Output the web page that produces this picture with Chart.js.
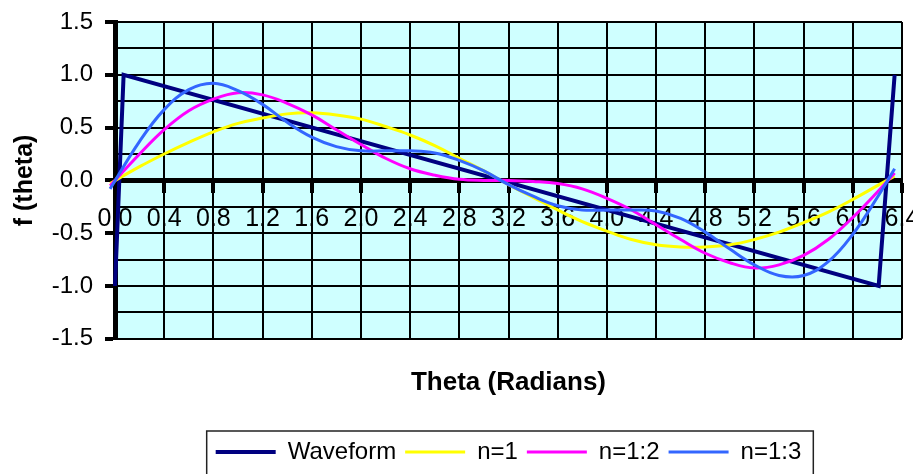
<!DOCTYPE html>
<html>
<head>
<meta charset="utf-8">
<script src="https://cdn.jsdelivr.net/npm/chart.js@4.4.0/dist/chart.umd.min.js"></script>
<style>
  html, body { margin: 0; padding: 0; background: #fff; }
  #wrap { width: 913px; height: 474px; }
</style>
</head>
<body>
<div id="wrap"><canvas id="mychart"></canvas></div>
<script>
// sawtooth waveform and its partial fourier sums
const waveTheta = [0, 0.07, 6.21, 6.34];
const waveValues = [-1, 1, -1, 1];

const curveTheta = [-0.04, 0.2, 0.4, 0.6, 0.8, 1.0, 1.2, 1.4, 1.6, 1.8, 2.0, 2.2, 2.4, 2.6, 2.8, 3.0,
  3.2, 3.4, 3.6, 3.8, 4.0, 4.2, 4.4, 4.6, 4.8, 5.0, 5.2, 5.4, 5.6, 5.8, 6.0, 6.2, 6.34];
const n1Values = [-0.03, 0.13, 0.25, 0.36, 0.46, 0.54, 0.59, 0.63, 0.64, 0.62, 0.58, 0.51, 0.43, 0.33, 0.21, 0.09,
  -0.04, -0.16, -0.28, -0.39, -0.48, -0.56, -0.61, -0.63, -0.63, -0.61, -0.56, -0.49, -0.40, -0.30, -0.18, -0.05, 0.04];
const n12Values = [-0.05, 0.25, 0.48, 0.66, 0.77, 0.83, 0.81, 0.73, 0.62, 0.48, 0.34, 0.21, 0.11, 0.05, 0.01, 0.00,
  0.00, -0.01, -0.03, -0.08, -0.17, -0.28, -0.42, -0.56, -0.69, -0.78, -0.83, -0.80, -0.71, -0.56, -0.35, -0.11, 0.07];
const n123Values = [-0.08, 0.37, 0.67, 0.86, 0.92, 0.85, 0.72, 0.55, 0.41, 0.32, 0.28, 0.28, 0.28, 0.26, 0.19, 0.09,
  -0.04, -0.15, -0.24, -0.28, -0.28, -0.28, -0.29, -0.36, -0.49, -0.65, -0.80, -0.90, -0.90, -0.77, -0.51, -0.16, 0.11];

const xMin = 0, xMax = 6.4, xStep = 0.4;
const yMin = -1.5, yMax = 1.5, yStep = 0.25;

function toPoints(xs, ys) {
  return xs.map((x, i) => ({ x: x, y: ys[i] }));
}

const ctx = document.getElementById('mychart');
const FONT = 'Liberation Sans, Arial, sans-serif';

// cyan plot background + legend frame
const frame = {
  id: 'frame',
  beforeDraw(chart) {
    const a = chart.chartArea;
    const c = chart.ctx;
    c.save();
    c.fillStyle = '#cfffff';
    c.fillRect(a.left, a.top, a.right - a.left, a.bottom - a.top);
    c.restore();
  },
  afterDraw(chart) {
    const lg = chart.legend;
    if (!lg || !lg.legendHitBoxes || !lg.legendHitBoxes.length) return;
    const boxes = lg.legendHitBoxes;
    const left = Math.min(...boxes.map(b => b.left)) - 9;
    const right = Math.max(...boxes.map(b => b.left + b.width)) + 12;
    const c = chart.ctx;
    c.save();
    c.strokeStyle = '#222';
    c.lineWidth = 1.5;
    c.strokeRect(left, lg.top, right - left, 60);
    c.restore();
  }
};

new Chart(ctx, {
  type: 'line',
  data: {
    datasets: [
      {
        label: 'Waveform',
        data: toPoints(waveTheta, waveValues),
        borderColor: '#000080',
        borderWidth: 4,
        tension: 0,
        order: 3
      },
      {
        label: 'n=1',
        data: toPoints(curveTheta, n1Values),
        borderColor: '#ffff00',
        borderWidth: 3,
        tension: 0.4,
        order: 2
      },
      {
        label: 'n=1:2',
        data: toPoints(curveTheta, n12Values),
        borderColor: '#ff00ff',
        borderWidth: 3,
        tension: 0.4,
        order: 1
      },
      {
        label: 'n=1:3',
        data: toPoints(curveTheta, n123Values),
        borderColor: '#3366ff',
        borderWidth: 3,
        tension: 0.4,
        order: 0
      }
    ]
  },
  options: {
    responsive: true,
    maintainAspectRatio: false,
    animation: false,
    datasets: {
      line: { pointRadius: 0, pointHoverRadius: 0, fill: false, clip: false }
    },
    layout: {
      padding: { top: 22, right: 11, left: 0, bottom: 0 }
    },
    plugins: {
      tooltip: { enabled: false },
      title: {
        display: true,
        text: 'Theta (Radians)',
        position: 'bottom',
        fullSize: false,
        weight: 500,
        color: '#000',
        font: { family: FONT, size: 26, weight: 'bold' },
        padding: { top: 28, bottom: 33 }
      },
      legend: {
        display: true,
        position: 'bottom',
        fullSize: false,
        labels: {
          usePointStyle: true,
          pointStyle: 'line',
          pointStyleWidth: 60,
          color: '#000',
          padding: 9,
          font: { family: FONT, size: 24 },
          sort: (a, b) => a.datasetIndex - b.datasetIndex
        }
      }
    },
    scales: {
      x: {
        type: 'linear',
        min: xMin,
        max: xMax,
        position: { y: 0 },
        afterFit: (scale) => { scale.paddingLeft = 0; scale.paddingRight = 0; },
        border: { display: true, color: '#000', width: 5 },
        grid: {
          color: '#000',
          lineWidth: 2,
          drawTicks: true,
          tickLength: 10,
          tickWidth: 4,
          tickColor: '#000'
        },
        ticks: {
          stepSize: xStep,
          autoSkip: false,
          maxRotation: 0,
          padding: 14,
          color: '#000',
          font: { family: FONT, size: 25 },
          callback: (v) => Number(v).toFixed(1)
        }
      },
      y: {
        type: 'linear',
        min: yMin,
        max: yMax,
        afterFit: (scale) => { scale.width = 115; scale.paddingTop = 0; scale.paddingBottom = 0; },
        border: { display: true, color: '#000', width: 5 },
        grid: {
          color: '#000',
          lineWidth: 2,
          drawTicks: true,
          tickLength: 10,
          tickWidth: 4,
          tickColor: (c) => {
            const v = c.tick ? c.tick.value * 2 : 0;
            return Math.abs(v - Math.round(v)) < 1e-6 ? '#000' : 'rgba(0,0,0,0)';
          }
        },
        title: {
          display: true,
          text: 'f (theta)',
          color: '#000',
          font: { family: FONT, size: 25, weight: 'bold' },
          padding: { top: 10, bottom: 0 }
        },
        ticks: {
          stepSize: yStep,
          autoSkip: false,
          padding: 12,
          color: '#000',
          font: { family: FONT, size: 24 },
          callback: (v) => {
            const d = v * 2;
            return Math.abs(d - Math.round(d)) < 1e-6 ? Number(v).toFixed(1) : '';
          }
        }
      }
    }
  },
  plugins: [frame]
});
</script>
</body>
</html>
